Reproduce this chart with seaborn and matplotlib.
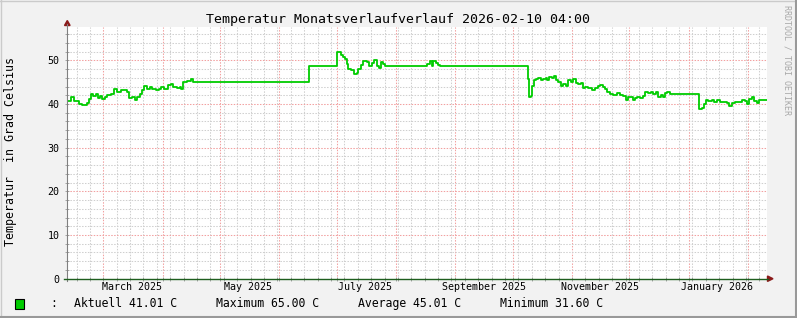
import matplotlib
matplotlib.use("Agg")
import matplotlib.pyplot as plt
import matplotlib.dates as mdates
from matplotlib.ticker import MultipleLocator, NullFormatter, FixedLocator
from matplotlib.patches import Polygon, Rectangle
from matplotlib.lines import Line2D
import pandas as pd
import seaborn as sns

# ---------------- data ----------------
title = "Temperatur Monatsverlaufverlauf 2026-02-10 04:00"
y_label = "Temperatur  in Grad Celsius"
watermark = "RRDTOOL / TOBI OETIKER"
start = "2025-02-10 04:00"
span_days = 365.8

days_since_start = [
    0, 1.8, 3.5, 6.1, 7.7, 10.1, 11.3, 12.5, 13.6, 14.8, 16.0, 17.1, 18.3, 19.6, 20.9,
    22.7, 24.4, 26.1, 27.9, 30.0, 31.1, 32.3, 34.0, 35.2, 36.6, 38.0, 39.2, 40.1, 41.8, 43.2,
    44.4, 46.2, 47.9, 49.1, 50.5, 52.6, 54.1, 55.4, 57.2, 58.9, 59.6, 60.6, 62.4, 64.5, 65.9,
    126.3, 140.8, 142.0, 142.9, 144.0, 145.2, 146.1, 146.9, 148.1, 149.2, 149.9, 151.3, 152.1,
    153.4, 154.7, 156.5, 157.9, 159.1, 160.5, 161.7, 163.1, 164.0, 165.2, 166.1,
    188.2, 189.6, 190.5, 191.3, 192.7, 193.9, 194.8,
    241.0, 241.5, 242.2, 242.9, 244.0, 245.0, 246.2, 247.5, 248.8, 250.2, 250.9, 252.0, 253.2,
    254.4, 255.5, 256.7, 257.9, 259.3, 260.7, 261.9, 263.1, 264.5, 265.9, 267.1, 268.4, 269.4,
    270.6, 272.4, 274.1, 275.9, 277.6, 278.5, 279.9, 281.1, 282.3, 283.7, 285.4, 287.2, 288.9,
    290.6, 292.0, 293.2, 294.5, 295.5, 296.7, 297.9, 299.3, 300.8, 302.0, 303.7, 305.0, 306.3,
    307.7, 308.9, 310.2, 311.2, 312.4, 313.6, 315.1,
    330.4, 331.6, 332.8, 333.9, 335.1, 336.9, 338.1, 339.5, 341.2, 342.9, 344.7, 346.1, 347.3,
    349.0, 350.8, 352.5, 354.2, 355.1, 356.5, 357.8, 359.0, 360.4, 361.8, 363.5, 365.8,
]
temperature = [
    40.8, 41.5, 40.8, 40.0, 39.8, 40.2, 41.2, 42.3, 41.9, 42.3, 41.3, 41.9, 41.2, 41.5, 42.1,
    42.3, 43.5, 42.8, 43.1, 43.2, 42.7, 41.3, 41.5, 41.0, 41.5, 42.3, 43.1, 44.2, 43.5, 43.8,
    43.5, 43.1, 43.5, 43.8, 43.5, 44.4, 44.6, 43.8, 43.6, 43.8, 43.5, 45.0, 45.2, 45.8, 45.1,
    48.7, 51.8, 51.9, 51.2, 50.8, 50.4, 49.2, 48.1, 47.7, 47.9, 46.9, 47.1, 48.1,
    49.0, 49.8, 49.6, 48.8, 49.5, 50.0, 48.8, 48.2, 49.6, 49.2, 48.7,
    49.2, 49.8, 48.8, 49.8, 49.5, 49.0, 48.7,
    45.8, 41.5, 41.9, 44.2, 45.4, 45.8, 45.9, 45.5, 45.8, 46.0, 45.4, 46.1, 46.0,
    46.4, 45.4, 45.0, 44.1, 44.6, 44.2, 45.6, 45.1, 45.8, 44.8, 44.6, 44.8, 43.6,
    43.8, 43.6, 43.3, 43.6, 44.1, 44.4, 43.8, 43.5, 42.7, 42.3, 42.1, 42.5, 42.1,
    41.9, 41.0, 41.5, 41.7, 41.0, 41.3, 41.7, 41.3, 41.9, 42.7, 42.5, 42.7, 42.3,
    42.7, 41.5, 42.1, 41.5, 42.5, 42.7, 42.3,
    38.8, 39.0, 40.0, 41.0, 40.8, 41.0, 40.5, 41.0, 40.5, 40.4, 40.2, 39.6, 40.2,
    40.5, 40.4, 41.0, 40.8, 40.0, 41.2, 41.5, 40.8, 40.2, 41.0, 40.9, 41.0,
]
x_label_months = ["2025-03-01", "2025-05-01", "2025-07-01", "2025-09-01", "2025-11-01", "2026-01-01"]
x_label_texts = ["March 2025", "May 2025", "July 2025", "September 2025", "November 2025", "January 2026"]
y_ticks = [0, 10, 20, 30, 40, 50]
legend_texts = ["Aktuell 41.01 C", "Maximum 65.00 C", "Average 45.01 C", "Minimum 31.60 C"]

# ---------------- figure ----------------
W, H = 797, 318
MONO = "DejaVu Sans Mono"
plt.rcParams["font.family"] = [MONO, "DejaVu Sans"]

fig = plt.figure(figsize=(W / 100, H / 100), dpi=100, facecolor="#F2F2F2")

def fx(x):
    return x / W

def fy(y):
    return 1 - y / H

left, right, top, bottom = 67.3, 767.0, 27.0, 278.7
ax = fig.add_axes([fx(left), fy(bottom), (right - left) / W, (bottom - top) / H])
ax.set_facecolor("white")

t0 = pd.Timestamp(start)
df = pd.DataFrame({
    "time": t0 + pd.to_timedelta(days_since_start, unit="D"),
    "temp": temperature,
})

sns.lineplot(data=df, x="time", y="temp", ax=ax, color="#00CC00", linewidth=1.3,
             drawstyle="steps-post", estimator=None, sort=False, zorder=3)

ax.set_xlim(t0, t0 + pd.Timedelta(days=span_days))
ax.set_ylim(0, (bottom - top) / 4.367)

# grids
ax.xaxis.set_major_locator(mdates.MonthLocator(bymonthday=1))
ax.xaxis.set_minor_locator(mdates.WeekdayLocator(byweekday=mdates.SA))
ax.xaxis.set_major_formatter(NullFormatter())
ax.xaxis.set_minor_formatter(NullFormatter())
ax.yaxis.set_major_locator(FixedLocator(y_ticks))
ax.yaxis.set_minor_locator(MultipleLocator(2))
ax.set_yticklabels([str(v) for v in y_ticks])

ax.grid(which="minor", color="#CFCFCF", linestyle=(0, (1.4, 1.4)), linewidth=0.75)
ax.grid(which="major", color="#F2A0A0", linestyle=(0, (1.4, 1.4)), linewidth=0.75)

ax.tick_params(which="both", direction="inout", length=3, width=0.6, color="#999999")
ax.tick_params(axis="y", which="major", labelsize=7.2, pad=4, labelcolor="black")
for lbl in ax.get_yticklabels():
    lbl.set_family(MONO)

for s in ax.spines.values():
    s.set_visible(False)
ax.set_xlabel("")
ax.set_ylabel("")

# month labels centred within the month
trans = ax.get_xaxis_transform()
for m, txt in zip(x_label_months, x_label_texts):
    xpos = pd.Timestamp(m) + pd.Timedelta(days=14.8)
    ax.text(xpos, -8.5 / (bottom - top), txt, transform=trans, ha="center", va="center",
            fontsize=7.2, family=MONO, clip_on=False)

# axes lines and arrows
fig.add_artist(Line2D([fx(left), fx(left)], [fy(bottom + 2), fy(24)], color="#808080",
                      lw=0.8, transform=fig.transFigure))
fig.add_artist(Line2D([fx(left - 3), fx(768)], [fy(bottom), fy(bottom)], color="#1E5E1E",
                      lw=1.0, transform=fig.transFigure))
fig.add_artist(Polygon([[fx(64.5), fy(25.5)], [fx(70.1), fy(25.5)], [fx(left), fy(20.5)]],
                       closed=True, color="#8B1A1A", transform=fig.transFigure))
fig.add_artist(Polygon([[fx(767.5), fy(276.0)], [fx(767.5), fy(281.4)], [fx(773), fy(bottom)]],
                       closed=True, color="#8B1A1A", transform=fig.transFigure))

# title, y label, watermark
fig.text(fx(398.5), fy(19), title, ha="center", va="center", fontsize=9.5, family=MONO)
fig.text(fx(11), fy(152), y_label, ha="center", va="center", rotation=90, fontsize=8.4,
         family=MONO)
fig.text(fx(787), fy(5), watermark, ha="center", va="top", rotation=270, fontsize=6,
         family=MONO, color="#A8A8A8")

# legend row
fig.add_artist(Rectangle((fx(15), fy(308.5)), 9 / W, 10 / H, facecolor="#00CC00",
                         edgecolor="black", lw=0.8, transform=fig.transFigure))
fig.text(fx(54), fy(303.5), ":", ha="center", va="center", fontsize=8.3, family=MONO)
for xpos, txt in zip([74, 216, 358, 500], legend_texts):
    fig.text(fx(xpos), fy(303.5), txt, ha="left", va="center", fontsize=8.3, family=MONO)

# frame shading
fig.add_artist(Line2D([0, 1], [fy(0.5), fy(0.5)], color="#CBCBCB", lw=1.0, transform=fig.transFigure))
fig.add_artist(Line2D([fx(0.5), fx(0.5)], [0, 1], color="#CBCBCB", lw=1.0, transform=fig.transFigure))
fig.add_artist(Line2D([0, 1], [fy(317), fy(317)], color="#999999", lw=1.5, transform=fig.transFigure))
fig.add_artist(Line2D([fx(796), fx(796)], [0, 1], color="#999999", lw=1.5, transform=fig.transFigure))

fig.savefig("out.png", dpi=100, facecolor=fig.get_facecolor())
